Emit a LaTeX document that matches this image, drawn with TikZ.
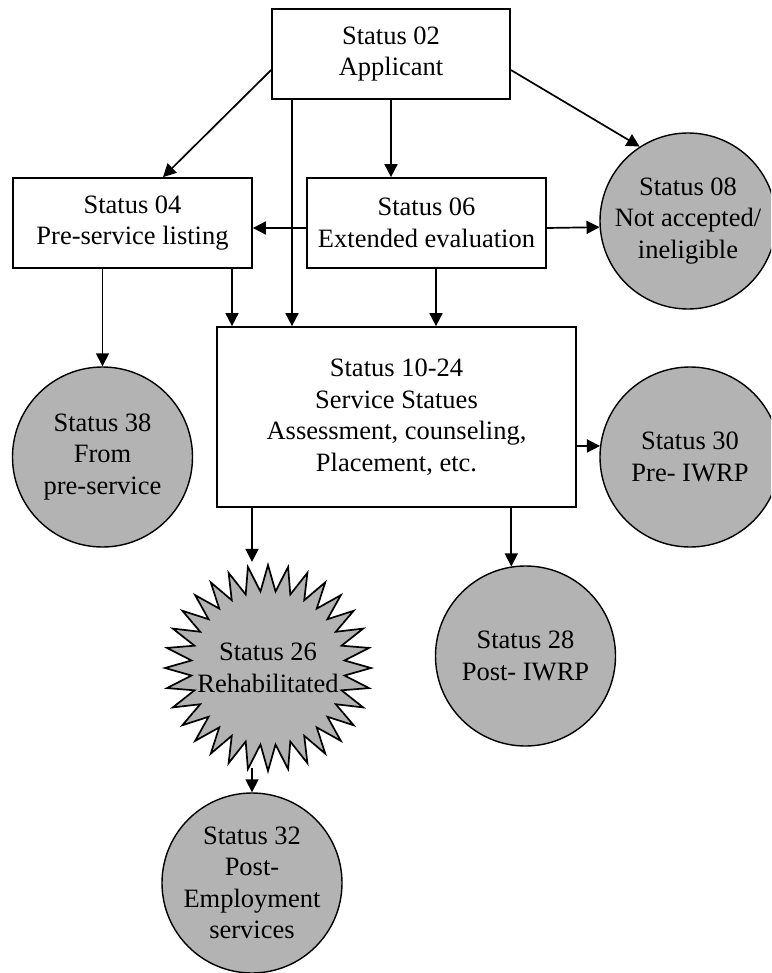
\documentclass[tikz,border=0pt]{standalone}
\usepackage{fontspec}
\setmainfont{Liberation Serif}
\usetikzlibrary{arrows.meta,shapes.geometric}
\definecolor{fillgray}{RGB}{179,179,179}
\tikzset{
  txt/.style={font=\fontsize{26.5}{31.5}\selectfont, align=center, text=black},
  box/.style={txt, draw, line width=1.7pt, rectangle, inner sep=0pt, fill=white},
  endc/.style={txt, draw, line width=1.4pt, circle, fill=fillgray, inner sep=0pt},
  burst/.style={draw, line width=1.7pt, star, star points=32, star point ratio=1.34, inner sep=0pt, fill=fillgray},
  arr/.style={-{Triangle[length=13pt,width=13pt]}, line width=1.7pt},
}
\begin{document}
\begin{tikzpicture}[x=1pt,y=-1pt]
\useasboundingbox (0,0) rectangle (771,973);
\clip (0,0) rectangle (771,973);
% boxes
\node[box, minimum width=238pt, minimum height=90pt] (s02) at (391,54) {Status 02\\Applicant};
\node[box, minimum width=239pt, minimum height=90pt] (s04) at (132.5,223) {Status 04\\Pre-service listing};
\node[box, minimum width=239pt, minimum height=90pt] (s06) at (426.5,223) {Status 06\\Extended evaluation};
\node[box, minimum width=359pt, minimum height=180pt] (s1024) at (396.5,417) {Status 10-24\\Service Statues\\Assessment, counseling,\\Placement, etc.};
% circles
\node[endc, minimum size=176pt] (s08) at (688,221) {Status 08\\Not accepted/\\ineligible};
\node[endc, minimum size=180pt] (s38) at (102.5,457) {Status 38\\From\\pre-service};
\node[endc, minimum size=180pt] (s30) at (690,457) {Status 30\\Pre- IWRP};
\node[endc, minimum size=180pt] (s28) at (525.5,656) {Status 28\\Post- IWRP};
\node[endc, minimum size=180pt] (s32) at (252,883) {Status 32\\Post-\\Employment\\services};
% starburst
\node[burst, minimum size=206pt] (s26) at (268,668) {};
\node[txt] (s26t) at (s26.center) {Status 26\\Rehabilitated};
% helper coordinates for vertical connectors
\coordinate (c1) at (292,0);
\coordinate (c2) at (232,0);
\coordinate (c3) at (436,0);
% connectors
\draw[arr] ([yshift=-16pt]s02.west) -- ([xshift=30.5pt]s04.north);
\draw[arr] (s02.south) -- (s02.south |- s06.north);
\draw[arr] (s02.south -| c1) -- (s1024.north -| c1);
\draw[arr] ([yshift=-16pt]s02.east) -- (s08.123);
\draw[arr] ([yshift=-5pt]s06.west) -- ([yshift=-5pt]s04.east);
\draw[arr] ([yshift=-5pt]s06.east) -- (s08.184.5);
\draw[arr] (s04.south -| c2) -- (s1024.north -| c2);
\draw[arr] (s38.north |- s04.south) -- (s38.north);
\draw[arr] (s06.south -| c3) -- (s1024.north -| c3);
\draw[arr] (s1024.east |- s30.173.6) -- (s30.173.6);
\draw[arr] (s1024.south -| s28.99.3) -- (s28.99.3);
\draw[arr] (s1024.south -| s32.north) -- (s26.north -| s32.north);
\draw[arr] ([yshift=6pt]s26.south -| s32.north) -- (s32.north);
\end{tikzpicture}
\end{document}
